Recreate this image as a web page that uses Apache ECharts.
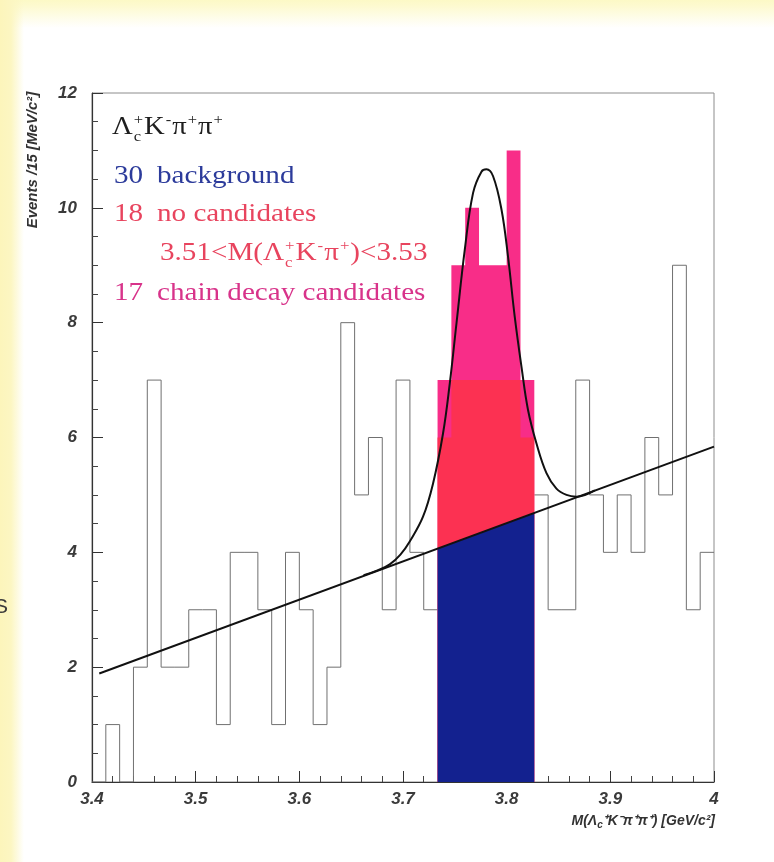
<!DOCTYPE html>
<html>
<head>
<meta charset="utf-8">
<script src="https://cdn.jsdelivr.net/npm/echarts@6/dist/echarts.min.js"></script>
<style>
  html, body { margin: 0; padding: 0; background: #ffffff; }
  #chart {
    width: 774px; height: 862px;
    background:
      linear-gradient(to right, #fcf5bb 0px, #fcf6c2 11px, rgba(255,255,255,0) 24px),
      linear-gradient(to bottom, #fcf9c6 0px, #fdfad0 6px, rgba(255,255,255,0) 28px),
      #ffffff;
  }
</style>
</head>
<body>
<div id="chart"></div>
<script>
// Mass axis binning (GeV/c^2)
const massMin = 3.4;
const massMax = 4.0;
const binCount = 45;

// Entries per bin, from the lowest mass bin upwards
const counts = [0, 1, 0, 2, 7, 2, 2, 3, 3, 1,
                4, 4, 3, 1, 4, 3, 1, 2, 8, 5,
                6, 3, 7, 4, 3,
                7, 9, 10, 9, 9, 11, 7,
                5, 3, 3, 7, 5, 4, 5, 4, 6, 5, 9, 3, 4];

// Signal window: bin indices and the "no candidates" level stacked on the background
const signalBins = [25, 26, 27, 28, 29, 30, 31];
const noCandidateTops = [6, 7, 7, 7, 7, 7, 6];

// Linear background fit (end points) and its level at the window edges
const bgFit = [[3.407, 1.89], [4.0, 5.84]];
const bgWindowTops = [4.06, 4.68];

// Background + peak fit, sampled along the resonance
const peakFit = [
  [3.662, 3.60], [3.6760, 3.69], [3.6872, 3.79], [3.6975, 3.96], [3.7065, 4.19],
  [3.7193, 4.62], [3.7290, 5.20], [3.7386, 6.07],
  [3.7451, 6.94], [3.7516, 7.99], [3.7596, 9.27], [3.7676, 10.26], [3.7757, 10.63],
  [3.7805, 10.67], [3.7869, 10.55], [3.7950, 9.97], [3.8013, 9.15], [3.8078, 8.10],
  [3.8143, 7.23], [3.8206, 6.48], [3.8287, 5.90], [3.8384, 5.38], [3.8480, 5.11],
  [3.8577, 5.00], [3.8673, 4.97], [3.8850, 5.08]
];

// Axis tick labels
const xTickLabels = ['3.4', '3.5', '3.6', '3.7', '3.8', '3.9', '4'];
const yTickLabels = ['0', '2', '4', '6', '8', '10', '12'];

const binW = (massMax - massMin) / binCount;
const edge = i => massMin + i * binW;

// Open histogram outline, interrupted across the filled signal window
const outline = [];
for (let i = 0; i < signalBins[0]; i++) outline.push([edge(i), counts[i]]);
outline.push([edge(signalBins[0]), counts[signalBins[0] - 1]]);
outline.push(null);
const after = signalBins[signalBins.length - 1] + 1;
for (let i = after; i < binCount; i++) outline.push([edge(i), counts[i]]);
outline.push([massMax, counts[binCount - 1]]);

const COL_BLUE = '#13218f';
const COL_RED = '#fc3152';
const COL_PINK = '#f82d88';

// Text measurement for the in-plot annotation
const measureCtx = document.createElement('canvas').getContext('2d');
function textWidth(str, size, family) {
  measureCtx.font = size + 'px ' + family;
  return measureCtx.measureText(str).width;
}

const SERIF = '"Liberation Serif", "DejaVu Serif", serif';
function label(str, x, baseline, size, color, sx) {
  return {
    type: 'text', x: x, y: baseline - 0.34 * size, scaleX: sx, z: 50,
    style: {
      text: str, x: 0, y: 0, fill: color,
      font: size + 'px ' + SERIF,
      align: 'left', textAlign: 'left',
      verticalAlign: 'middle', textVerticalAlign: 'middle'
    }
  };
}
// Runs: {t} normal, {sup} superscript, {stack:[sup, sub]} stacked super/subscript
function runs(list, x0, baseline, size, color, sx) {
  const els = [];
  let x = x0;
  const small = Math.round(size * 0.58);
  list.forEach(r => {
    if (r.t !== undefined) {
      els.push(label(r.t, x, baseline, size, color, sx));
      x += textWidth(r.t, size, SERIF) * sx;
    } else if (r.sup !== undefined) {
      els.push(label(r.sup, x + 1, baseline - 0.42 * size, small, color, sx));
      x += textWidth(r.sup, small, SERIF) * sx + 2;
    } else if (r.stack) {
      els.push(label(r.stack[0], x + 1, baseline - 0.42 * size, small, color, sx));
      els.push(label(r.stack[1], x + 1, baseline + 0.24 * size, small, color, sx));
      x += Math.max(textWidth(r.stack[0], small, SERIF), textWidth(r.stack[1], small, SERIF)) * sx + 2;
    }
  });
  return els;
}

const F = 26, SX = 1.12;
const annotation = [].concat(
  runs([{t: 'Λ'}, {stack: ['+', 'c']}, {t: 'K'}, {sup: '-'}, {t: 'π'}, {sup: '+'}, {t: 'π'}, {sup: '+'}],
       112, 136, 26, '#1e1e1e', 1.1),
  runs([{t: '30'}], 114, 185, F, '#2c3b9b', SX),
  runs([{t: 'background'}], 157, 185, F, '#2c3b9b', SX),
  runs([{t: '18'}], 114, 223, F, '#e8445e', SX),
  runs([{t: 'no candidates'}], 157, 223, F, '#e8445e', SX),
  runs([{t: '3.51<M(Λ'}, {stack: ['+', 'c']}, {t: 'K'}, {sup: '-'}, {t: 'π'}, {sup: '+'}, {t: ')<3.53'}],
       160, 262, F, '#e8445e', SX),
  runs([{t: '17'}], 114, 302, F, '#d8338a', SX),
  runs([{t: 'chain decay candidates'}], 157, 302, F, '#d8338a', SX)
);

const AXFONT = '"Liberation Sans", Arial, sans-serif';

const chart = echarts.init(document.getElementById('chart'), null, { renderer: 'canvas' });

chart.setOption({
  backgroundColor: 'transparent',
  animation: false,
  grid: {
    left: 92, right: 60, top: 93, bottom: 80,
    show: true, borderColor: '#8c8c8c', borderWidth: 1,
    backgroundColor: 'transparent',
    containLabel: false, outerBoundsMode: 'none'
  },
  xAxis: {
    type: 'value', min: massMin, max: massMax, interval: 0.1,
    axisLine: { show: true, onZero: false, lineStyle: { color: '#333', width: 1.2 } },
    axisTick: { show: true, inside: true, length: 11, lineStyle: { color: '#333', width: 1 } },
    minorTick: { show: true, splitNumber: 5, length: 6, lineStyle: { color: '#444', width: 1 } },
    splitLine: { show: false },
    minorSplitLine: { show: false },
    axisLabel: {
      margin: 9, color: '#3a3a3a', fontSize: 17, fontStyle: 'italic', fontWeight: 'bold',
      fontFamily: AXFONT,
      formatter: v => xTickLabels[Math.round((v - massMin) / 0.1)] || ''
    }
  },
  yAxis: {
    type: 'value', min: 0, max: 12, interval: 2,
    axisLine: { show: true, onZero: false, lineStyle: { color: '#333', width: 1.2 } },
    axisTick: { show: true, inside: true, length: 11, lineStyle: { color: '#333', width: 1 } },
    minorTick: { show: true, splitNumber: 4, length: 6, lineStyle: { color: '#444', width: 1 } },
    splitLine: { show: false },
    minorSplitLine: { show: false },
    axisLabel: {
      margin: 15, color: '#3a3a3a', fontSize: 17, fontStyle: 'italic', fontWeight: 'bold',
      fontFamily: AXFONT,
      formatter: v => yTickLabels[Math.round(v / 2)] || ''
    }
  },
  graphic: [
    {
      type: 'text', x: 33, y: 160, rotation: Math.PI / 2, z: 50,
      style: {
        text: 'Events /15 [MeV/c²]', fill: '#333',
        font: 'italic bold 15px ' + AXFONT,
        align: 'center', textAlign: 'center',
        verticalAlign: 'middle', textVerticalAlign: 'middle'
      }
    },
    {
      type: 'text', x: 715, y: 821, z: 50,
      style: {
        text: 'M(Λ{s|c}⁺K⁻π⁺π⁺) [GeV/c²]', fill: '#333',
        font: 'italic bold 14px ' + AXFONT,
        align: 'right', textAlign: 'right',
        verticalAlign: 'middle', textVerticalAlign: 'middle',
        rich: { s: { fontSize: 10, fontStyle: 'italic', fontWeight: 'bold', fontFamily: AXFONT,
                     fill: '#333', padding: [8, 0, 0, 0] } }
      }
    },
    {
      type: 'text', x: -6, y: 607, z: 50,
      style: {
        text: 'S', fill: '#3a3a3a', font: '21px ' + AXFONT,
        align: 'left', textAlign: 'left',
        verticalAlign: 'middle', textVerticalAlign: 'middle'
      }
    }
  ].concat(annotation),
  series: [
    {
      name: 'all', type: 'line', step: 'end', data: outline,
      showSymbol: false, symbol: 'none', connectNulls: false,
      lineStyle: { color: '#707070', width: 1 }, z: 2, silent: true
    },
    {
      name: 'window', type: 'custom', z: 3, silent: true,
      data: [[edge(signalBins[0]), 0]],
      renderItem: (params, api) => {
        const lo = edge(signalBins[0]);
        const hi = edge(signalBins[signalBins.length - 1] + 1);
        const stepPoly = tops => {
          const pts = [api.coord([lo, 0])];
          signalBins.forEach((b, k) => {
            pts.push(api.coord([edge(b), tops[k]]));
            pts.push(api.coord([edge(b + 1), tops[k]]));
          });
          pts.push(api.coord([hi, 0]));
          return pts;
        };
        const totals = signalBins.map(b => counts[b]);
        return {
          type: 'group',
          children: [
            { type: 'polygon', shape: { points: stepPoly(totals) }, style: { fill: COL_PINK } },
            { type: 'polygon', shape: { points: stepPoly(noCandidateTops) }, style: { fill: COL_RED } },
            { type: 'polygon', shape: { points: [
                api.coord([lo, 0]), api.coord([lo, bgWindowTops[0]]),
                api.coord([hi, bgWindowTops[1]]), api.coord([hi, 0])
              ] }, style: { fill: COL_BLUE } }
          ]
        };
      }
    },
    {
      name: 'background fit', type: 'line', data: bgFit,
      showSymbol: false, symbol: 'none',
      lineStyle: { color: '#111', width: 2 }, z: 4, silent: true
    },
    {
      name: 'peak fit', type: 'line', data: peakFit, smooth: 0.4,
      showSymbol: false, symbol: 'none',
      lineStyle: { color: '#111', width: 2 }, z: 4, silent: true
    }
  ]
});
</script>
</body>
</html>
